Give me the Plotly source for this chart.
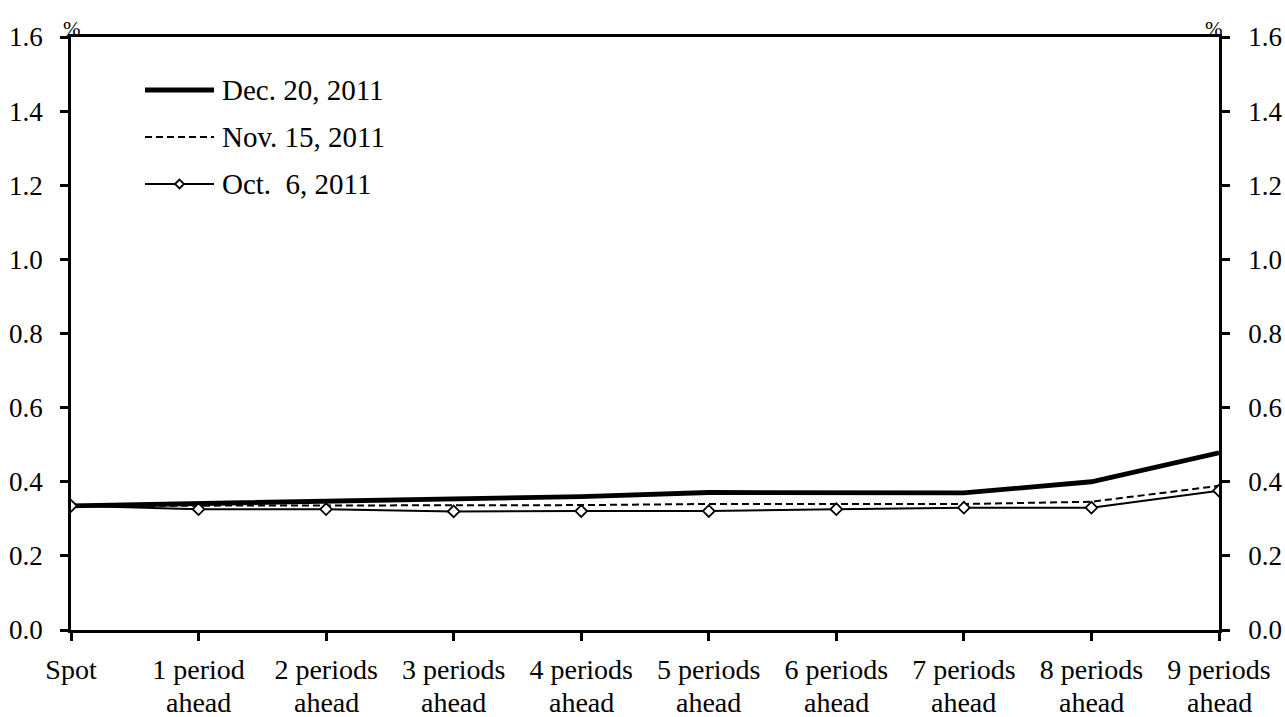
import plotly.graph_objects as go

categories = ["Spot", "1 period", "2 periods", "3 periods", "4 periods", "5 periods",
              "6 periods", "7 periods", "8 periods", "9 periods"]
category_second_line = ["", "ahead", "ahead", "ahead", "ahead", "ahead", "ahead",
                        "ahead", "ahead", "ahead"]
dec_20_2011 = [0.335, 0.342, 0.349, 0.354, 0.360, 0.371, 0.371, 0.370, 0.400, 0.478]
nov_15_2011 = [0.335, 0.335, 0.335, 0.335, 0.337, 0.340, 0.340, 0.340, 0.346, 0.389]
oct_6_2011 = [0.335, 0.326, 0.326, 0.320, 0.321, 0.321, 0.326, 0.330, 0.330, 0.376]
y_ticks = [0.0, 0.2, 0.4, 0.6, 0.8, 1.0, 1.2, 1.4, 1.6]
y_ticktext = [f"{v:.1f}" for v in y_ticks]
series_names = ["Dec. 20, 2011", "Nov. 15, 2011", "Oct.  6, 2011"]

FONT = "Liberation Serif"
FS = 27
XFS = 28
x = list(range(len(categories)))

fig = go.Figure()
fig.add_trace(go.Scatter(x=x, y=dec_20_2011, mode="lines", name=series_names[0],
                         line=dict(color="black", width=4.8), showlegend=False))
fig.add_trace(go.Scatter(x=x, y=nov_15_2011, mode="lines", name=series_names[1],
                         line=dict(color="black", width=2, dash="7px,4px"), showlegend=False))
fig.add_trace(go.Scatter(x=x, y=oct_6_2011, mode="lines+markers", name=series_names[2],
                         line=dict(color="black", width=2),
                         marker=dict(symbol="diamond", size=9, color="white",
                                     line=dict(color="black", width=1.8)),
                         showlegend=False))
# invisible trace to activate right axis
fig.add_trace(go.Scatter(x=[0], y=[0], yaxis="y2", mode="markers",
                         marker=dict(opacity=0), showlegend=False, hoverinfo="skip"))

axis_common = dict(showgrid=False, zeroline=False, showline=True, linecolor="black",
                   linewidth=2.5, ticks="outside", ticklen=8, tickwidth=2.5,
                   tickcolor="black", automargin=False)

W, H = 1285, 717
l, r, t, b = 71, 66, 37, 87

fig.update_layout(
    width=W, height=H,
    margin=dict(l=l, r=r, t=t, b=b),
    paper_bgcolor="white", plot_bgcolor="white",
    font=dict(family=FONT, size=FS, color="black"),
    xaxis=dict(range=[0, len(categories) - 1], tickmode="array", tickvals=x,
               ticktext=categories, mirror=True, ticklabelstandoff=5,
               tickfont=dict(family=FONT, size=XFS, color="black"), **axis_common),
    yaxis=dict(range=[0, 1.6], tickmode="array", tickvals=y_ticks, ticktext=y_ticktext,
               ticklabelstandoff=12, tickfont=dict(family=FONT, size=FS, color="black"),
               **axis_common),
    yaxis2=dict(range=[0, 1.6], overlaying="y", side="right", tickmode="array",
                tickvals=y_ticks, ticktext=y_ticktext, ticklabelstandoff=13,
                tickfont=dict(family=FONT, size=FS, color="black"), **axis_common),
    showlegend=False,
)

# second line of category labels
for xi, txt in zip(x, category_second_line):
    if txt:
        fig.add_annotation(xref="x", yref="paper", x=xi, y=0, text=txt, showarrow=False,
                           xanchor="center", yanchor="middle", yshift=-72,
                           font=dict(family=FONT, size=XFS))

# "%" unit labels
fig.add_annotation(xref="paper", yref="paper", x=0.0, y=1.0, text="%", showarrow=False,
                   xanchor="center", yanchor="bottom", font=dict(family=FONT, size=21),
                   xshift=1, yshift=-6)
fig.add_annotation(xref="paper", yref="paper", x=1.0, y=1.0, text="%", showarrow=False,
                   xanchor="center", yanchor="bottom", font=dict(family=FONT, size=21),
                   xshift=-5, yshift=-6)

# manual legend (positions given in page pixels)
pw, ph = W - l - r, H - t - b

def px(xp):
    return (xp - l) / pw

def py(yp):
    return (H - b - yp) / ph

rows = [90, 137, 184]
x0, x1, xt = 145, 214, 220
styles = [dict(width=4.8, dash="solid"), dict(width=2, dash="7px,4px"), dict(width=2, dash="solid")]
for yy, name, st in zip(rows, series_names, styles):
    fig.add_shape(type="line", xref="paper", yref="paper", x0=px(x0), x1=px(x1),
                  y0=py(yy), y1=py(yy), line=dict(color="black", **st))
    fig.add_annotation(xref="paper", yref="paper", x=px(xt), y=py(yy), text=name,
                       showarrow=False, xanchor="left", yanchor="middle",
                       font=dict(family=FONT, size=29))
# diamond marker in legend
cx, cy, d = (x0 + x1) / 2, rows[2], 4.5
path = (f"M {px(cx - d)} {py(cy)} L {px(cx)} {py(cy - d)} L {px(cx + d)} {py(cy)} "
        f"L {px(cx)} {py(cy + d)} Z")
fig.add_shape(type="path", xref="paper", yref="paper", path=path,
              fillcolor="white", line=dict(color="black", width=1.8))

fig.write_html("out.html", config={"displayModeBar": False},
               post_script="document.body.style.margin='0';"
                           "document.body.style.overflow='hidden';")
